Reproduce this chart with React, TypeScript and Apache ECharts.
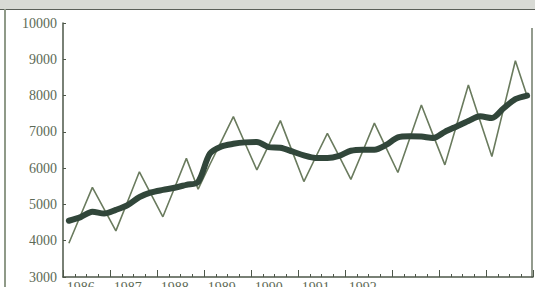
import React, { useEffect, useRef } from "react";
import * as echarts from "echarts";

// Quarterly data, 1986 Q1 – 1995 Q4
const years = [1986, 1987, 1988, 1989, 1990, 1991, 1992, 1993, 1994, 1995];
const quarters = ["Q1", "Q2", "Q3", "Q4"];
const labeledYears = ["1986", "1987", "1988", "1989", "1990", "1991", "1992"];

// thin seasonal series
const actual = [
  3930, 4700, 5470, 4870,
  4270, 5080, 5900, 5280,
  4660, 5460, 6270, 5420,
  6100, 6760, 7420, 6680,
  5950, 6630, 7310, 6470,
  5630, 6300, 6960, 6330,
  5690, 6460, 7240, 6560,
  5880, 6810, 7740, 6910,
  6090, 7190, 8290, 7300,
  6320, 7640, 8960, 7980,
];

// thick trend series
const trend = [
  4550, 4650, 4800, 4750,
  4850, 4980, 5200, 5330,
  5400, 5460, 5540, 5620,
  6400, 6600, 6670, 6710,
  6720, 6580, 6560, 6460,
  6350, 6280, 6280, 6340,
  6480, 6510, 6510, 6640,
  6850, 6880, 6870, 6830,
  7000, 7150, 7300, 7430,
  7380, 7650, 7900, 8000,
];

const yMin = 3000;
const yMax = 10000;
const yStep = 1000;

const categories = years.flatMap((y) => quarters.map((q) => `${y} ${q}`));

export default function App() {
  const ref = useRef<HTMLDivElement>(null);

  useEffect(() => {
    if (!ref.current) return;
    const chart = echarts.init(ref.current, null, { renderer: "svg" });
    const font = "Liberation Serif";
    const axisColor = "#4d5749";
    const labelColor = "#5d6a56";
    chart.setOption({
      animation: false,
      backgroundColor: "#ffffff",
      grid: {
        left: 63,
        right: 2,
        top: 23,
        bottom: 10,
        containLabel: false,
        outerBoundsMode: "none",
      },
      graphic: [
        { type: "rect", shape: { x: 0, y: 0, width: 535, height: 9 }, style: { fill: "#d8dad5" }, z: -1 },
        { type: "line", shape: { x1: 0, y1: 9.5, x2: 535, y2: 9.5 }, style: { stroke: "#5a5f58", lineWidth: 1.2 } },
        { type: "line", shape: { x1: 5, y1: 9, x2: 5, y2: 287 }, style: { stroke: "#8f9a88", lineWidth: 2 } },
        { type: "line", shape: { x1: 532, y1: 28, x2: 532, y2: 277.5 }, style: { stroke: "#6f7a68", lineWidth: 1.5 } },
      ],
      xAxis: [
        {
          type: "category",
          data: categories,
          boundaryGap: true,
          axisLine: { show: true, lineStyle: { color: axisColor, width: 1.5 } },
          axisTick: { show: true, inside: true, length: 3, interval: 0, lineStyle: { color: axisColor, width: 1 } },
          axisLabel: {
            show: true,
            interval: (idx: number) => idx % 4 === 1,
            formatter: (v: string) => {
              const y = v.split(" ")[0];
              return labeledYears.includes(y) ? y : "";
            },
            color: labelColor,
            fontFamily: font,
            fontSize: 14,
            margin: 3,
          },
          splitLine: { show: false },
        },
        {
          type: "category",
          data: categories,
          boundaryGap: true,
          position: "bottom",
          axisLine: { show: false },
          axisTick: {
            show: true,
            inside: true,
            length: 7,
            interval: (idx: number) => idx % 4 === 0,
            lineStyle: { color: axisColor, width: 1 },
          },
          axisLabel: { show: false },
          splitLine: { show: false },
        },
      ],
      yAxis: {
        type: "value",
        min: yMin,
        max: yMax,
        interval: yStep,
        axisLine: { show: true, lineStyle: { color: axisColor, width: 1.5 } },
        axisTick: { show: true, inside: true, length: 3, lineStyle: { color: axisColor } },
        axisLabel: {
          color: labelColor,
          fontFamily: font,
          fontSize: 14,
          margin: 6,
          formatter: (v: number) => String(v),
        },
        splitLine: { show: false },
      },
      series: [
        {
          type: "line",
          data: actual,
          xAxisIndex: 0,
          symbol: "none",
          lineStyle: { color: "#6a7b5e", width: 1.6 },
          z: 2,
        },
        {
          type: "line",
          data: trend,
          xAxisIndex: 0,
          symbol: "none",
          smooth: 0.3,
          lineStyle: { color: "#31463a", width: 6, cap: "round", join: "round" },
          z: 3,
        },
      ],
    });
    return () => chart.dispose();
  }, []);

  return (
    <div
      ref={ref}
      style={{ position: "absolute", left: 0, top: 0, width: 535, height: 287 }}
    />
  );
}
